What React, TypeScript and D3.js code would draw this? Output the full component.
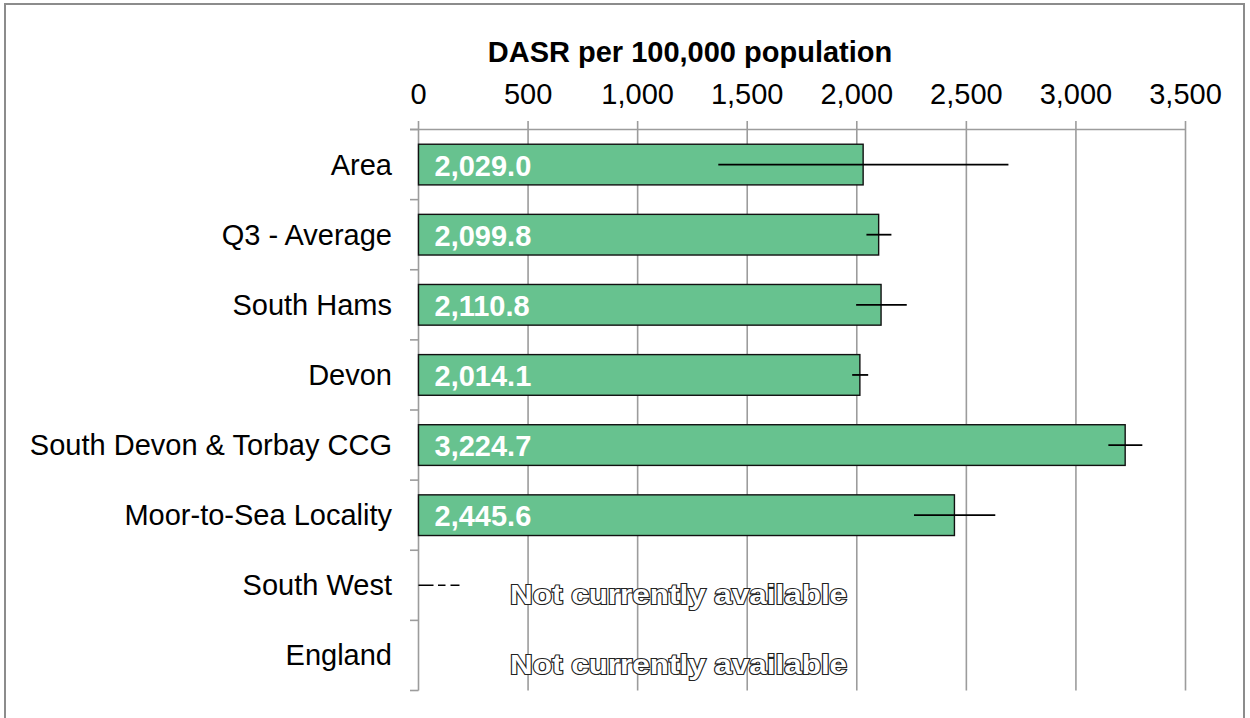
import React from "react";
import * as d3 from "d3";

const categories = [
  "Area",
  "Q3 - Average",
  "South Hams",
  "Devon",
  "South Devon & Torbay CCG",
  "Moor-to-Sea Locality",
  "South West",
  "England",
];
const values: (number | null)[] = [2029.0, 2099.8, 2110.8, 2014.1, 3224.7, 2445.6, null, null];
const lowerCI: (number | null)[] = [1368, 2044, 1997, 1979, 3148, 2261, null, null];
const upperCI: (number | null)[] = [2692, 2158, 2228, 2052, 3303, 2632, null, null];
const xTicks = [0, 500, 1000, 1500, 2000, 2500, 3000, 3500];
const naText = "Not currently available";
const southWestDash = [0, 187];
const title = "DASR per 100,000 population";

const W = 1250;
const H = 718;
const FONT = "'Liberation Sans', Arial, sans-serif";

export default function App() {
  const x = d3.scaleLinear().domain([0, 3500]).range([418.5, 1185.5]);
  const y = d3
    .scaleBand<string>()
    .domain(categories)
    .range([129.5, 690.5])
    .paddingInner(0.42)
    .paddingOuter(0.21);
  const step = y.step();
  const top = 129.5;
  const bottom = 690.5;
  const fmt = d3.format(",");
  const fmtV = d3.format(",.1f");
  const center = (c: string) => (y(c) as number) + y.bandwidth() / 2;
  const naX = x(1187);

  return (
    <div style={{ position: "absolute", left: 0, top: 0 }}>
      <svg width={W} height={H} style={{ display: "block", fontFamily: FONT }}>
        <rect x={0} y={0} width={W} height={H} fill="#fff" />
        <rect x={5} y={4} width={1239} height={730} fill="none" stroke="#8c8c8c" strokeWidth={2} />
        {/* gridlines + ticks */}
        {xTicks.map((t) => (
          <line key={"g" + t} x1={x(t)} x2={x(t)} y1={121} y2={bottom} stroke="#9c9c9c" strokeWidth={1.6} />
        ))}
        <line x1={410} x2={x(3500)} y1={top} y2={top} stroke="#9c9c9c" strokeWidth={1.6} />
        {d3.range(categories.length + 1).map((i) => (
          <line
            key={"ct" + i}
            x1={410}
            x2={x(0)}
            y1={top + i * step}
            y2={top + i * step}
            stroke="#9c9c9c"
            strokeWidth={1.6}
          />
        ))}
        {/* tick labels */}
        {xTicks.map((t) => (
          <text key={"tl" + t} x={x(t)} y={104} textAnchor="middle" fontSize={29} fill="#000">
            {fmt(t)}
          </text>
        ))}
        <text x={690} y={62} textAnchor="middle" fontSize={29} fontWeight="bold" fill="#000">
          {title}
        </text>
        {/* category labels */}
        {categories.map((c) => (
          <text key={"cl" + c} x={392} y={center(c) + 10} textAnchor="end" fontSize={29} fill="#000">
            {c}
          </text>
        ))}
        {/* bars */}
        {categories.map((c, i) =>
          values[i] == null ? null : (
            <rect
              key={"b" + c}
              x={x(0)}
              y={y(c)}
              width={x(values[i] as number) - x(0)}
              height={y.bandwidth()}
              fill="#67c28f"
              stroke="#111"
              strokeWidth={1.4}
            />
          )
        )}
        {/* error bars */}
        {categories.map((c, i) =>
          lowerCI[i] == null ? null : (
            <line
              key={"e" + c}
              x1={x(lowerCI[i] as number)}
              x2={x(upperCI[i] as number)}
              y1={center(c)}
              y2={center(c)}
              stroke="#000"
              strokeWidth={1.8}
            />
          )
        )}
        {/* value labels */}
        {categories.map((c, i) =>
          values[i] == null ? null : (
            <text
              key={"v" + c}
              x={x(0) + 16}
              y={center(c) + 11}
              fontSize={29}
              fontWeight="bold"
              fill="#fff"
            >
              {fmtV(values[i] as number)}
            </text>
          )
        )}
        {/* South West dashed marker */}
        <line
          x1={x(southWestDash[0])}
          x2={x(southWestDash[1])}
          y1={center("South West")}
          y2={center("South West")}
          stroke="#000"
          strokeWidth={1.6}
          strokeDasharray="15,4.5,7.5,5"
        />
        {/* not available labels */}
        {categories.map((c, i) =>
          values[i] == null ? (
            <text
              key={"na" + c}
              x={naX}
              y={center(c) + 19}
              textAnchor="middle"
              fontSize={28}
              fontWeight="bold"
              fill="#fff"
              stroke="#222"
              strokeWidth={2.2}
              paintOrder="stroke"
              textLength={337}
              lengthAdjust="spacingAndGlyphs"
            >
              {naText}
            </text>
          ) : null
        )}
      </svg>
    </div>
  );
}
